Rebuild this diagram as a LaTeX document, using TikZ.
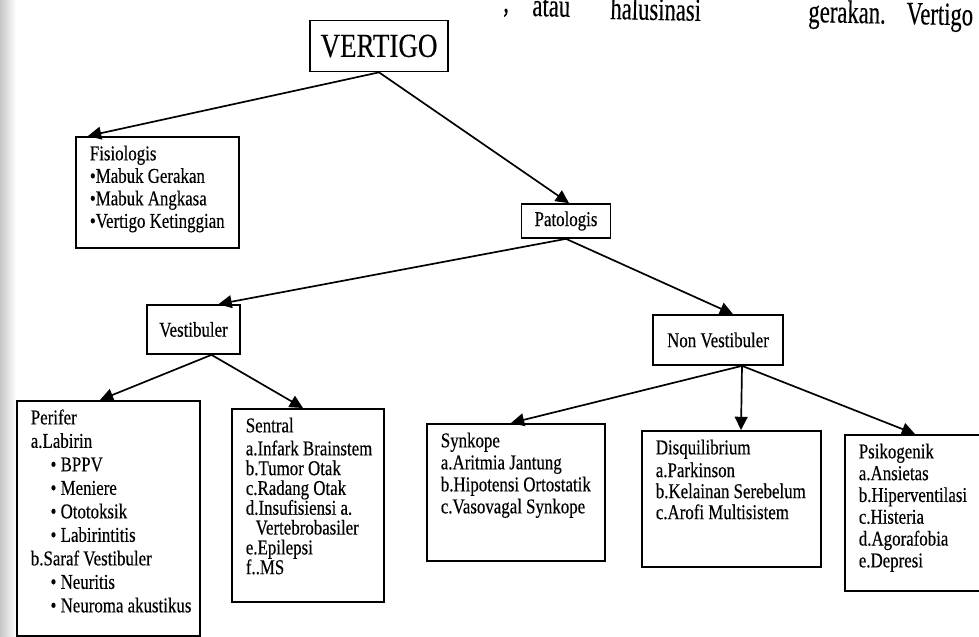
\documentclass[tikz,border=0pt]{standalone}
\usepackage{fontspec}
\setmainfont{Liberation Serif}[FakeStretch=0.8, FakeBold=0.3]
\newfontfamily\teksatas{Liberation Serif}[FakeStretch=0.7, FakeBold=0.3]
\usetikzlibrary{arrows.meta,positioning}

\newlength{\satuan}
\setlength{\satuan}{0.025cm}
% isi kotak: lebar, tinggi, baris
\newcommand{\isi}[3]{\parbox[t][#2\satuan][t]{#1\satuan}{\raggedright\setlength{\leftskip}{14\satuan}#3}}

\tikzset{
  kotak/.style={draw, line width=1.2pt, anchor=north west, inner xsep=0pt, inner ysep=5.5pt,
    font=\fontsize{15}{16}\selectfont},
  judul/.style={draw, line width=1.2pt, inner sep=0pt, font=\fontsize{15}{16}\selectfont},
  panah/.style={line width=1.2pt, -{Triangle[length=0.33cm,width=0.32cm]}},
  teks/.style={anchor=base west, inner sep=0pt, rotate=-1.2, font=\teksatas\fontsize{23}{27}\selectfont}
}

\begin{document}
\begin{tikzpicture}[x=0.025cm, y=-0.025cm]
\useasboundingbox (0,0) rectangle (979,637);
\shade[left color=black!22, right color=white] (0,0) rectangle (16,637);

% potongan teks di atas
\node[teks] (koma) at (503,12) {,};
\node[teks] (atau) at (532,16) {atau};
\node[teks] (halusinasi) at (610,19) {halusinasi};
\node[teks] (gerakan) at (808,22) {gerakan.};
\node[teks] (vertigokata) at (906,24) {Vertigo};

\node[judul, minimum width=3.45cm, minimum height=1.275cm, font=\fontsize{24}{28}\selectfont] (vertigo) at (379,46) {VERTIGO};

\node[kotak] (fisiologis) at (75,136) {\isi{163}{95.5}{\setlength{\baselineskip}{22.5\satuan}\strut Fisiologis\\
  \textbullet Mabuk Gerakan\\
  \textbullet Mabuk Angkasa\\
  \textbullet Vertigo Ketinggian}};

\node[judul, minimum width=2.225cm, minimum height=0.85cm] (patologis) at (566,221) {Patologis};
\node[judul, minimum width=2.325cm, minimum height=1.225cm] (vestibuler) at (193.5,329.5) {Vestibuler};
\node[judul, minimum width=3.25cm, minimum height=1.25cm] (nonvest) at (718,340) {Non Vestibuler};

\node[kotak] (perifer) at (16,400) {\isi{183}{220}{\setlength{\baselineskip}{23.5\satuan}\strut Perifer\\
  a.Labirin\\
  \hspace*{14pt}\textbullet\ BPPV\\
  \hspace*{14pt}\textbullet\ Meniere\\
  \hspace*{14pt}\textbullet\ Ototoksik\\
  \hspace*{14pt}\textbullet\ Labirintitis\\
  b.Saraf Vestibuler\\
  \hspace*{14pt}\textbullet\ Neuritis\\
  \hspace*{14pt}\textbullet\ Neuroma akustikus}};

\node[kotak] (sentral) at (231,408) {\isi{152}{178}{\setlength{\baselineskip}{19.8\satuan}\strut Sentral\\
  a.Infark Brainstem\\
  b.Tumor Otak\\
  c.Radang Otak\\
  d.Insufisiensi a.\\
  \hspace*{7pt}Vertebrobasiler\\
  e.Epilepsi\\
  f..MS}};

\node[kotak] (synkope) at (426,423) {\isi{178}{122}{\setlength{\baselineskip}{22\satuan}\strut Synkope\\
  a.Aritmia Jantung\\
  b.Hipotensi Ortostatik\\
  c.Vasovagal Synkope}};

\node[kotak] (disquilibrium) at (641,430) {\isi{179}{121}{\setlength{\baselineskip}{21\satuan}\strut Disquilibrium\\
  a.Parkinson\\
  b.Kelainan Serebelum\\
  c.Arofi Multisistem}};

\node[kotak] (psikogenik) at (844,434) {\isi{160}{141}{\setlength{\baselineskip}{21.8\satuan}\strut Psikogenik\\
  a.Ansietas\\
  b.Hiperventilasi\\
  c.Histeria\\
  d.Agorafobia\\
  e.Depresi}};

\draw[panah] (vertigo.south) -- ([shift={(13,0)}]fisiologis.north west);
\draw[panah] (vertigo.south) -- ([shift={(3,0)}]patologis.north);
\draw[panah] (patologis.south) -- ([shift={(25,0)}]vestibuler.north);
\draw[panah] (patologis.south) -- ([shift={(15,0)}]nonvest.north);
\draw[panah] ([shift={(18,0)}]vestibuler.south) -- ([shift={(84,0)}]perifer.north west);
\draw[panah] ([shift={(18,0)}]vestibuler.south) -- ([shift={(72,0)}]sentral.north west);
\draw[panah] ([shift={(24,0)}]nonvest.south) -- ([shift={(85,0)}]synkope.north west);
\draw[panah] ([shift={(24,0)}]nonvest.south) -- ([shift={(100,0)}]disquilibrium.north west);
\draw[panah] ([shift={(24,0)}]nonvest.south) -- ([shift={(71,0)}]psikogenik.north west);
\end{tikzpicture}
\end{document}
